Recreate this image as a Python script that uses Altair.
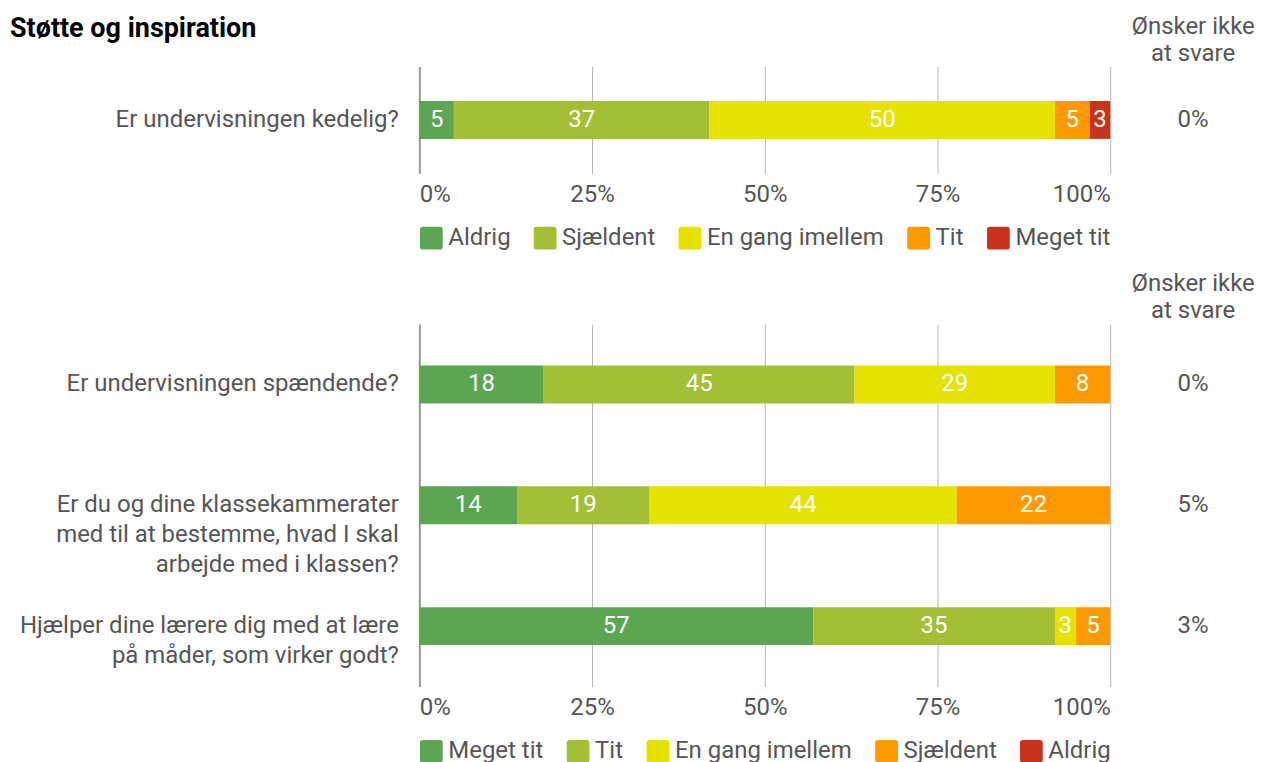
import altair as alt
import pandas as pd

# ---------------- data ----------------
title_text = "Støtte og inspiration"
noanswer_title = ["Ønsker ikke", "at svare"]

top_questions = ["Er undervisningen kedelig?"]
top_categories = ["Aldrig", "Sjældent", "En gang imellem", "Tit", "Meget tit"]
top_values = [[5, 37, 50, 5, 3]]
top_noanswer = ["0%"]

bot_questions = [
    "Er undervisningen spændende?",
    "Er du og dine klassekammerater|med til at bestemme, hvad I skal|arbejde med i klassen?",
    "Hjælper dine lærere dig med at lære|på måder, som virker godt?",
]
bot_categories = ["Meget tit", "Tit", "En gang imellem", "Sjældent", "Aldrig"]
bot_values = [
    [18, 45, 29, 8, 0],
    [14, 19, 44, 22, 0],
    [57, 35, 3, 5, 0],
]
bot_noanswer = ["0%", "5%", "3%"]

palette = ["#5ba553", "#a2bf36", "#e6e200", "#ff9900", "#c8341b"]
x_ticks = [0, 0.25, 0.5, 0.75, 1]

TEXT = "#555555"
FONT = "Roboto"
FS = 24
ROUNDED = ("M-1,-0.75 Q-1,-1 -0.75,-1 L0.75,-1 Q1,-1 1,-0.75 L1,0.75 "
           "Q1,1 0.75,1 L-0.75,1 Q-1,1 -1,0.75 Z")


def bar_panel(questions, categories, values, height, title=None):
    rows = []
    for q, vals in zip(questions, values):
        for i, (c, v) in enumerate(zip(categories, vals)):
            rows.append({"question": q, "category": c, "order": i, "value": v})
    df = pd.DataFrame(rows)

    y = alt.Y(
        "question:N",
        sort=questions,
        title=None,
        scale=alt.Scale(paddingInner=0, paddingOuter=0),
        axis=alt.Axis(
            labelExpr="split(datum.label, '|')",
            labelFontSize=FS,
            labelColor=TEXT,
            labelLineHeight=30,
            labelLimit=800,
            labelPadding=21,
            ticks=False,
            domain=True,
            domainColor="#9a9a9a",
            domainWidth=2,
            grid=False,
        ),
    )

    base = (
        alt.Chart(df)
        .transform_filter("datum.value > 0")
        .transform_joinaggregate(total="sum(value)", groupby=["question"])
        .transform_calculate(pct="datum.value / datum.total")
        .transform_stack(
            stack="pct",
            groupby=["question"],
            sort=[alt.SortField("order")],
            as_=["x0", "x1"],
        )
        .transform_calculate(mid="(datum.x0 + datum.x1) / 2")
        .encode(y=y)
    )

    bars = base.mark_bar(size=38).encode(
        x=alt.X(
            "x0:Q",
            title=None,
            scale=alt.Scale(domain=[0, 1], nice=False),
            axis=alt.Axis(
                values=x_ticks,
                format=".0%",
                labelFontSize=FS,
                labelColor=TEXT,
                labelFlush=True,
                labelPadding=9,
                ticks=False,
                domain=False,
                grid=True,
                gridColor="#b5b5b5",
                gridWidth=1,
            ),
        ),
        x2="x1:Q",
        color=alt.Color(
            "category:N",
            scale=alt.Scale(domain=categories, range=palette),
            legend=alt.Legend(
                title=None,
                orient="bottom",
                direction="horizontal",
                symbolType=ROUNDED,
                symbolSize=520,
                symbolStrokeWidth=0,
                symbolOpacity=1,
                labelFontSize=FS,
                labelColor=TEXT,
                labelOffset=5,
                labelLimit=400,
                columnPadding=22,
                offset=20,
            ),
        ),
    )

    labels = base.mark_text(color="white", fontSize=FS).encode(
        x=alt.X("mid:Q"),
        text=alt.Text("value:Q"),
    )

    props = dict(width=692, height=height)
    if title is not None:
        props["title"] = alt.TitleParams(
            title,
            anchor="start",
            frame="group",
            fontSize=27,
            fontWeight="bold",
            color="black",
            dx=-410,
            offset=24,
        )
    return alt.layer(bars, labels).properties(**props)


def text_panel(questions, noanswer, height):
    df = pd.DataFrame({"question": questions, "pct": noanswer})
    return (
        alt.Chart(
            df,
            title=alt.TitleParams(
                noanswer_title,
                anchor="middle",
                fontSize=FS,
                fontWeight="normal",
                color=TEXT,
                lineHeight=27,
                offset=1,
            ),
        )
        .mark_text(fontSize=FS, color=TEXT)
        .encode(
            y=alt.Y(
                "question:N",
                sort=questions,
                axis=None,
                scale=alt.Scale(paddingInner=0, paddingOuter=0),
            ),
            text=alt.Text("pct:N"),
        )
        .properties(width=122, height=height)
    )


top_bar = bar_panel(top_questions, top_categories, top_values, 107, title=title_text)
top_txt = text_panel(top_questions, top_noanswer, 107)
bot_bar = bar_panel(bot_questions, bot_categories, bot_values, 363)
bot_txt = text_panel(bot_questions, bot_noanswer, 363)

chart = (
    alt.concat(
        top_bar, top_txt, bot_bar, bot_txt,
        columns=2,
        spacing={"row": 22, "column": 20},
    )
    .resolve_scale(color="independent", x="independent", y="independent")
    .resolve_legend(color="independent")
    .properties(padding={"left": 2, "top": 6, "right": 0, "bottom": 0})
    .configure(font=FONT)
    .configure_view(stroke=None)
)

chart.save("out.html", embed_options={"renderer": "svg", "actions": False})
